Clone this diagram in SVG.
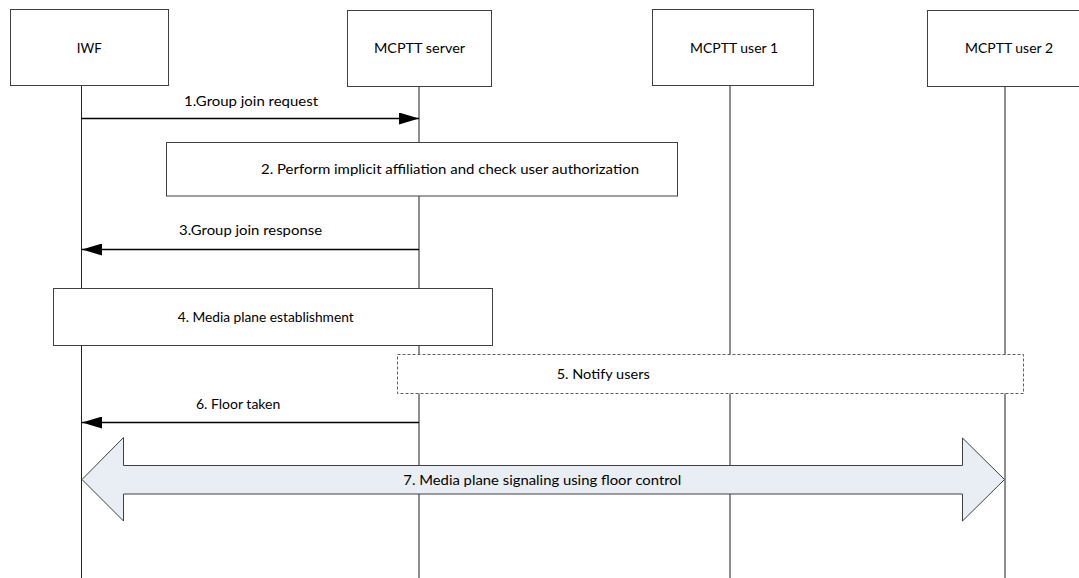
<svg xmlns="http://www.w3.org/2000/svg" width="1079" height="578" viewBox="0 0 1079 578">
<style>
  .box { fill: #ffffff; stroke: #404040; stroke-width: 1; }
  .dbox { fill: #ffffff; stroke: #606060; stroke-width: 1; stroke-dasharray: 3 2; }
  .life { stroke: #202020; stroke-width: 1; fill: none; }
  .msg { stroke: #000000; stroke-width: 1.3; fill: none; }
  .big { fill: #e9eef5; stroke: #404040; stroke-width: 1; }
  text { font-family: Lato, "Liberation Sans", sans-serif; font-size: 14px; fill: #000000; }
</style>
<defs>
  <marker id="ah" markerUnits="userSpaceOnUse" markerWidth="20" markerHeight="12" refX="20" refY="6" orient="auto">
    <path d="M0,0 L20,6 L0,12 z" fill="#000000"/>
  </marker>
</defs>
<rect width="1079" height="578" fill="#ffffff"/>

<g id="lifelines">
  <line class="life" x1="81.5" y1="85" x2="81.5" y2="578"/>
  <line class="life" x1="419" y1="86" x2="419" y2="578"/>
  <line class="life" x1="730" y1="85" x2="730" y2="578"/>
  <line class="life" x1="1005" y1="86" x2="1005" y2="578"/>
</g>

<g id="node-iwf">
  <rect class="box" x="10.5" y="9.5" width="158" height="76"/>
  <text x="76.7" y="52.7" textLength="25" lengthAdjust="spacingAndGlyphs">IWF</text>
</g>
<g id="node-server">
  <rect class="box" x="347.5" y="10.5" width="144" height="76"/>
  <text x="374" y="53" textLength="91" lengthAdjust="spacingAndGlyphs">MCPTT server</text>
</g>
<g id="node-user1">
  <rect class="box" x="652.5" y="9.5" width="161" height="76"/>
  <text x="690" y="52.5" textLength="88" lengthAdjust="spacingAndGlyphs">MCPTT user 1</text>
</g>
<g id="node-user2">
  <rect class="box" x="927.5" y="10.5" width="152" height="76"/>
  <text x="965" y="53" textLength="88" lengthAdjust="spacingAndGlyphs">MCPTT user 2</text>
</g>

<g id="step2">
  <rect class="box" x="166.5" y="142.5" width="511" height="53.5"/>
  <text x="261" y="174" textLength="378" lengthAdjust="spacingAndGlyphs">2. Perform implicit affiliation and check user authorization</text>
</g>
<g id="step4">
  <rect class="box" x="53.5" y="288.5" width="439" height="57"/>
  <text x="177.7" y="322" textLength="176" lengthAdjust="spacingAndGlyphs">4. Media plane establishment</text>
</g>
<g id="step5">
  <rect class="dbox" x="397.5" y="354.5" width="626" height="39"/>
  <text x="556.7" y="379" textLength="93" lengthAdjust="spacingAndGlyphs">5. Notify users</text>
</g>

<g id="connectors">
  <line class="msg" x1="81.5" y1="118.5" x2="419" y2="118.5" marker-end="url(#ah)"/>
  <text x="184" y="106" textLength="134" lengthAdjust="spacingAndGlyphs">1.Group join request</text>
  <line class="msg" x1="419" y1="249.5" x2="82" y2="249.5" marker-end="url(#ah)"/>
  <text x="179" y="235" textLength="143" lengthAdjust="spacingAndGlyphs">3.Group join response</text>
  <line class="msg" x1="419" y1="422.5" x2="82" y2="422.5" marker-end="url(#ah)"/>
  <text x="196" y="409">6. Floor taken</text>
  <g id="step7">
    <path class="big" d="M82,479.5 L123.5,437.5 L123.5,465.5 L962.5,465.5 L962.5,438 L1004.5,479.5 L962.5,521 L962.5,494 L123.5,494 L123.5,521 Z"/>
    <text x="403.3" y="485" textLength="278" lengthAdjust="spacingAndGlyphs">7. Media plane signaling using floor control</text>
  </g>
</g>
</svg>
